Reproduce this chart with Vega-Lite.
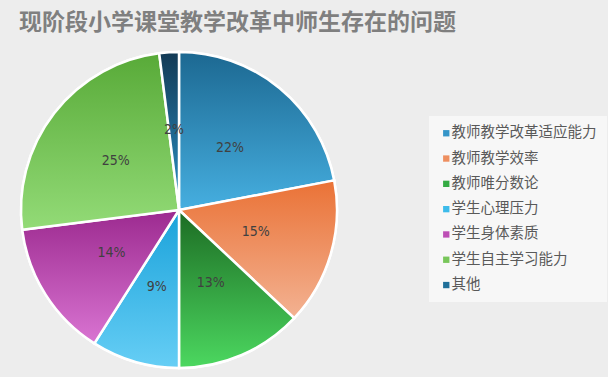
{
  "$schema": "https://vega.github.io/schema/vega-lite/v6.json",
  "width": 316,
  "height": 316,
  "autosize": {"type": "none"},
  "padding": {"left": 21, "top": 52, "right": 271, "bottom": 9},
  "background": "#ededed",
  "title": {
    "text": "现阶段小学课堂教学改革中师生存在的问题",
    "anchor": "start",
    "fontSize": 23,
    "fontWeight": "bold",
    "font": "Noto Sans CJK SC",
    "color": "#7f7f7f",
    "offset": 12,
    "dx": 3
  },
  "data": {
    "values": [
      {"category": "教师教学改革适应能力", "value": 0.22},
      {"category": "教师教学效率", "value": 0.15},
      {"category": "教师唯分数论", "value": 0.13},
      {"category": "学生心理压力", "value": 0.09},
      {"category": "学生身体素质", "value": 0.14},
      {"category": "学生自主学习能力", "value": 0.25},
      {"category": "其他", "value": 0.02}
    ]
  },
  "transform": [{"stack": "value", "groupby": [], "as": ["v0", "v1"]}],
  "encoding": {
    "theta": {"field": "v0", "type": "quantitative", "scale": {"domain": [0, 1]}},
    "theta2": {"field": "v1"}
  },
  "layer": [
    {
      "mark": {"type": "arc", "outerRadius": 158, "stroke": "white", "strokeWidth": 2.5},
      "encoding": {
        "color": {
          "field": "category",
          "type": "nominal",
          "sort": null,
          "scale": {
            "domain": ["教师教学改革适应能力", "教师教学效率", "教师唯分数论", "学生心理压力", "学生身体素质", "学生自主学习能力", "其他"],
            "range": ["#3595c8", "#ee8f60", "#34ab43", "#3dbbea", "#bd4fb5", "#78c65a", "#1f6f99"]
          },
          "legend": {
            "title": null,
            "orient": "none",
            "legendX": 408,
            "legendY": 64,
            "fillColor": "#f7f7f7",
            "padding": 10,
            "symbolType": "square",
            "symbolSize": 40,
            "symbolStrokeWidth": 0,
            "labelFont": "Noto Sans CJK SC",
            "labelFontSize": 14.5,
            "labelColor": "#595959",
            "labelOffset": -2,
            "rowPadding": 10.3,
            "labelLimit": 300
          }
        }
      }
    },
    {
      "transform": [{"filter": "datum.category === '教师教学改革适应能力'"}],
      "mark": {"type": "arc", "outerRadius": 158, "stroke": "white", "strokeWidth": 2.5,
        "fill": {"gradient": "linear", "x1": 0, "y1": 0, "x2": 0, "y2": 1, "stops": [{"offset": 0, "color": "#1c6891"}, {"offset": 1, "color": "#46afe0"}]}}
    },
    {
      "transform": [{"filter": "datum.category === '教师教学效率'"}],
      "mark": {"type": "arc", "outerRadius": 158, "stroke": "white", "strokeWidth": 2.5,
        "fill": {"gradient": "linear", "x1": 0, "y1": 0, "x2": 0, "y2": 1, "stops": [{"offset": 0, "color": "#ea7236"}, {"offset": 1, "color": "#f3b292"}]}}
    },
    {
      "transform": [{"filter": "datum.category === '教师唯分数论'"}],
      "mark": {"type": "arc", "outerRadius": 158, "stroke": "white", "strokeWidth": 2.5,
        "fill": {"gradient": "linear", "x1": 0, "y1": 0, "x2": 0, "y2": 1, "stops": [{"offset": 0, "color": "#1c6b23"}, {"offset": 1, "color": "#4cd860"}]}}
    },
    {
      "transform": [{"filter": "datum.category === '学生心理压力'"}],
      "mark": {"type": "arc", "outerRadius": 158, "stroke": "white", "strokeWidth": 2.5,
        "fill": {"gradient": "linear", "x1": 0, "y1": 0, "x2": 0, "y2": 1, "stops": [{"offset": 0, "color": "#1aa2da"}, {"offset": 1, "color": "#66cef5"}]}}
    },
    {
      "transform": [{"filter": "datum.category === '学生身体素质'"}],
      "mark": {"type": "arc", "outerRadius": 158, "stroke": "white", "strokeWidth": 2.5,
        "fill": {"gradient": "linear", "x1": 0, "y1": 0, "x2": 0, "y2": 1, "stops": [{"offset": 0, "color": "#9c2a8f"}, {"offset": 1, "color": "#d974d2"}]}}
    },
    {
      "transform": [{"filter": "datum.category === '学生自主学习能力'"}],
      "mark": {"type": "arc", "outerRadius": 158, "stroke": "white", "strokeWidth": 2.5,
        "fill": {"gradient": "linear", "x1": 0, "y1": 0, "x2": 0, "y2": 1, "stops": [{"offset": 0, "color": "#58aa38"}, {"offset": 1, "color": "#93db77"}]}}
    },
    {
      "transform": [{"filter": "datum.category === '其他'"}],
      "mark": {"type": "arc", "outerRadius": 158, "stroke": "white", "strokeWidth": 2.5,
        "fill": {"gradient": "linear", "x1": 0, "y1": 0, "x2": 0, "y2": 1, "stops": [{"offset": 0, "color": "#133a55"}, {"offset": 1, "color": "#2b93c8"}]}}
    },
    {
      "mark": {"type": "text", "radius": 80, "fontSize": 14, "font": "DejaVu Sans Condensed, Liberation Sans, sans-serif", "color": "#404040"},
      "encoding": {
        "theta": {"field": "value", "type": "quantitative", "stack": true, "scale": {"domain": [0, 1]}},
        "theta2": null,
        "detail": {"field": "category", "type": "nominal"},
        "order": {"field": "v0", "type": "quantitative"},
        "text": {"field": "value", "type": "quantitative", "format": ".0%"}
      }
    }
  ],
  "config": {"view": {"stroke": null}}
}
